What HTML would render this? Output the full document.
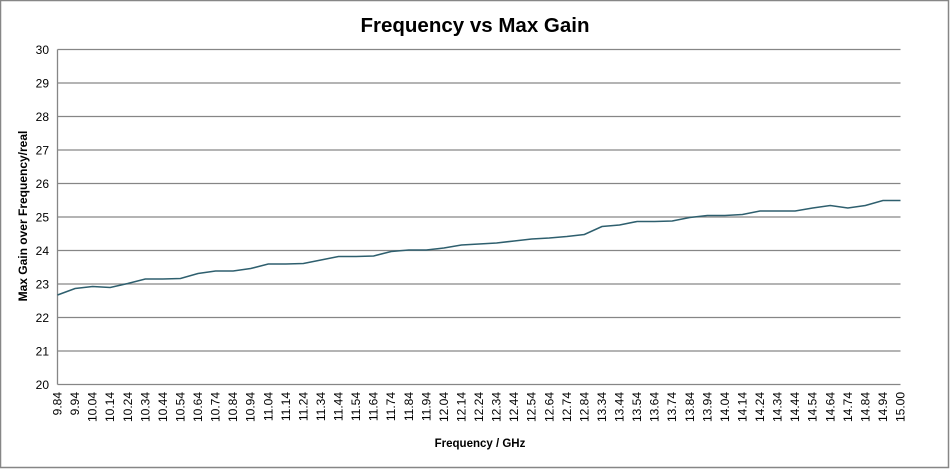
<!DOCTYPE html>
<html><head><meta charset="utf-8"><style>
html,body{margin:0;padding:0;background:#fff}
svg{display:block;font-family:"Liberation Sans",sans-serif}
</style></head><body>
<svg width="950" height="469" viewBox="0 0 950 469" xmlns="http://www.w3.org/2000/svg">
<rect x="0.5" y="0.5" width="948" height="467" fill="#fff" stroke="#868686" stroke-width="1.5"/>
<text x="475" y="32" text-anchor="middle" font-size="20.5" font-weight="bold" fill="#000">Frequency vs Max Gain</text>
<g stroke="#868686" stroke-width="1.3">
<line x1="57.5" y1="49.5" x2="900.5" y2="49.5"/>
<line x1="57.5" y1="83" x2="900.5" y2="83"/>
<line x1="57.5" y1="116.5" x2="900.5" y2="116.5"/>
<line x1="57.5" y1="150" x2="900.5" y2="150"/>
<line x1="57.5" y1="183.5" x2="900.5" y2="183.5"/>
<line x1="57.5" y1="217" x2="900.5" y2="217"/>
<line x1="57.5" y1="250.5" x2="900.5" y2="250.5"/>
<line x1="57.5" y1="284" x2="900.5" y2="284"/>
<line x1="57.5" y1="317.5" x2="900.5" y2="317.5"/>
<line x1="57.5" y1="351" x2="900.5" y2="351"/>
<line x1="57.5" y1="384.5" x2="900.5" y2="384.5"/>
<line x1="57.5" y1="49.5" x2="57.5" y2="384.5"/>
</g>
<g font-size="12" text-anchor="end" fill="#000">
<text x="49" y="54">30</text><text x="49" y="87.5">29</text><text x="49" y="121">28</text>
<text x="49" y="154.5">27</text><text x="49" y="188">26</text><text x="49" y="221.5">25</text>
<text x="49" y="255">24</text><text x="49" y="288.5">23</text><text x="49" y="322">22</text>
<text x="49" y="355.5">21</text><text x="49" y="389">20</text>
</g>
<polyline fill="none" stroke="#2e5f6e" stroke-width="1.6" points="57.5,295 75.06,288.5 92.63,286.5 110.19,287.5 127.75,283.5 145.31,279 162.88,279 180.44,278.5 198,273.5 215.56,271 233.13,271 250.69,268.5 268.25,264 285.81,264 303.38,263.5 320.94,260 338.5,256.5 356.06,256.5 373.63,256 391.19,251.5 408.75,250 426.31,250 443.88,248 461.44,245 479,244 496.56,243 514.13,241 531.69,239 549.25,238 566.81,236.5 584.38,234.5 601.94,226.5 619.5,225 637.06,221.5 654.63,221.5 672.19,221 689.75,217.5 707.31,215.5 724.88,215.5 742.44,214.5 760,211 777.56,211 795.13,211 812.69,208 830.25,205.5 847.81,208 865.38,205.5 882.94,200.5 900.5,200.5"/>
<g font-size="12" text-anchor="end" fill="#000">
<text transform="translate(61.5,392) rotate(-90)">9.84</text>
<text transform="translate(79.06,392) rotate(-90)">9.94</text>
<text transform="translate(96.63,392) rotate(-90)">10.04</text>
<text transform="translate(114.19,392) rotate(-90)">10.14</text>
<text transform="translate(131.75,392) rotate(-90)">10.24</text>
<text transform="translate(149.31,392) rotate(-90)">10.34</text>
<text transform="translate(166.88,392) rotate(-90)">10.44</text>
<text transform="translate(184.44,392) rotate(-90)">10.54</text>
<text transform="translate(202,392) rotate(-90)">10.64</text>
<text transform="translate(219.56,392) rotate(-90)">10.74</text>
<text transform="translate(237.13,392) rotate(-90)">10.84</text>
<text transform="translate(254.69,392) rotate(-90)">10.94</text>
<text transform="translate(272.25,392) rotate(-90)">11.04</text>
<text transform="translate(289.81,392) rotate(-90)">11.14</text>
<text transform="translate(307.38,392) rotate(-90)">11.24</text>
<text transform="translate(324.94,392) rotate(-90)">11.34</text>
<text transform="translate(342.5,392) rotate(-90)">11.44</text>
<text transform="translate(360.06,392) rotate(-90)">11.54</text>
<text transform="translate(377.63,392) rotate(-90)">11.64</text>
<text transform="translate(395.19,392) rotate(-90)">11.74</text>
<text transform="translate(412.75,392) rotate(-90)">11.84</text>
<text transform="translate(430.31,392) rotate(-90)">11.94</text>
<text transform="translate(447.88,392) rotate(-90)">12.04</text>
<text transform="translate(465.44,392) rotate(-90)">12.14</text>
<text transform="translate(483,392) rotate(-90)">12.24</text>
<text transform="translate(500.56,392) rotate(-90)">12.34</text>
<text transform="translate(518.13,392) rotate(-90)">12.44</text>
<text transform="translate(535.69,392) rotate(-90)">12.54</text>
<text transform="translate(553.25,392) rotate(-90)">12.64</text>
<text transform="translate(570.81,392) rotate(-90)">12.74</text>
<text transform="translate(588.38,392) rotate(-90)">12.84</text>
<text transform="translate(605.94,392) rotate(-90)">13.34</text>
<text transform="translate(623.5,392) rotate(-90)">13.44</text>
<text transform="translate(641.06,392) rotate(-90)">13.54</text>
<text transform="translate(658.63,392) rotate(-90)">13.64</text>
<text transform="translate(676.19,392) rotate(-90)">13.74</text>
<text transform="translate(693.75,392) rotate(-90)">13.84</text>
<text transform="translate(711.31,392) rotate(-90)">13.94</text>
<text transform="translate(728.88,392) rotate(-90)">14.04</text>
<text transform="translate(746.44,392) rotate(-90)">14.14</text>
<text transform="translate(764,392) rotate(-90)">14.24</text>
<text transform="translate(781.56,392) rotate(-90)">14.34</text>
<text transform="translate(799.13,392) rotate(-90)">14.44</text>
<text transform="translate(816.69,392) rotate(-90)">14.54</text>
<text transform="translate(834.25,392) rotate(-90)">14.64</text>
<text transform="translate(851.81,392) rotate(-90)">14.74</text>
<text transform="translate(869.38,392) rotate(-90)">14.84</text>
<text transform="translate(886.94,392) rotate(-90)">14.94</text>
<text transform="translate(904.5,392) rotate(-90)">15.00</text>
</g>
<text x="480" y="447" text-anchor="middle" font-size="11.5" font-weight="bold">Frequency / GHz</text>
<text transform="translate(27,216) rotate(-90)" text-anchor="middle" font-size="12" font-weight="bold">Max Gain over Frequency/real</text>
</svg>
</body></html>
